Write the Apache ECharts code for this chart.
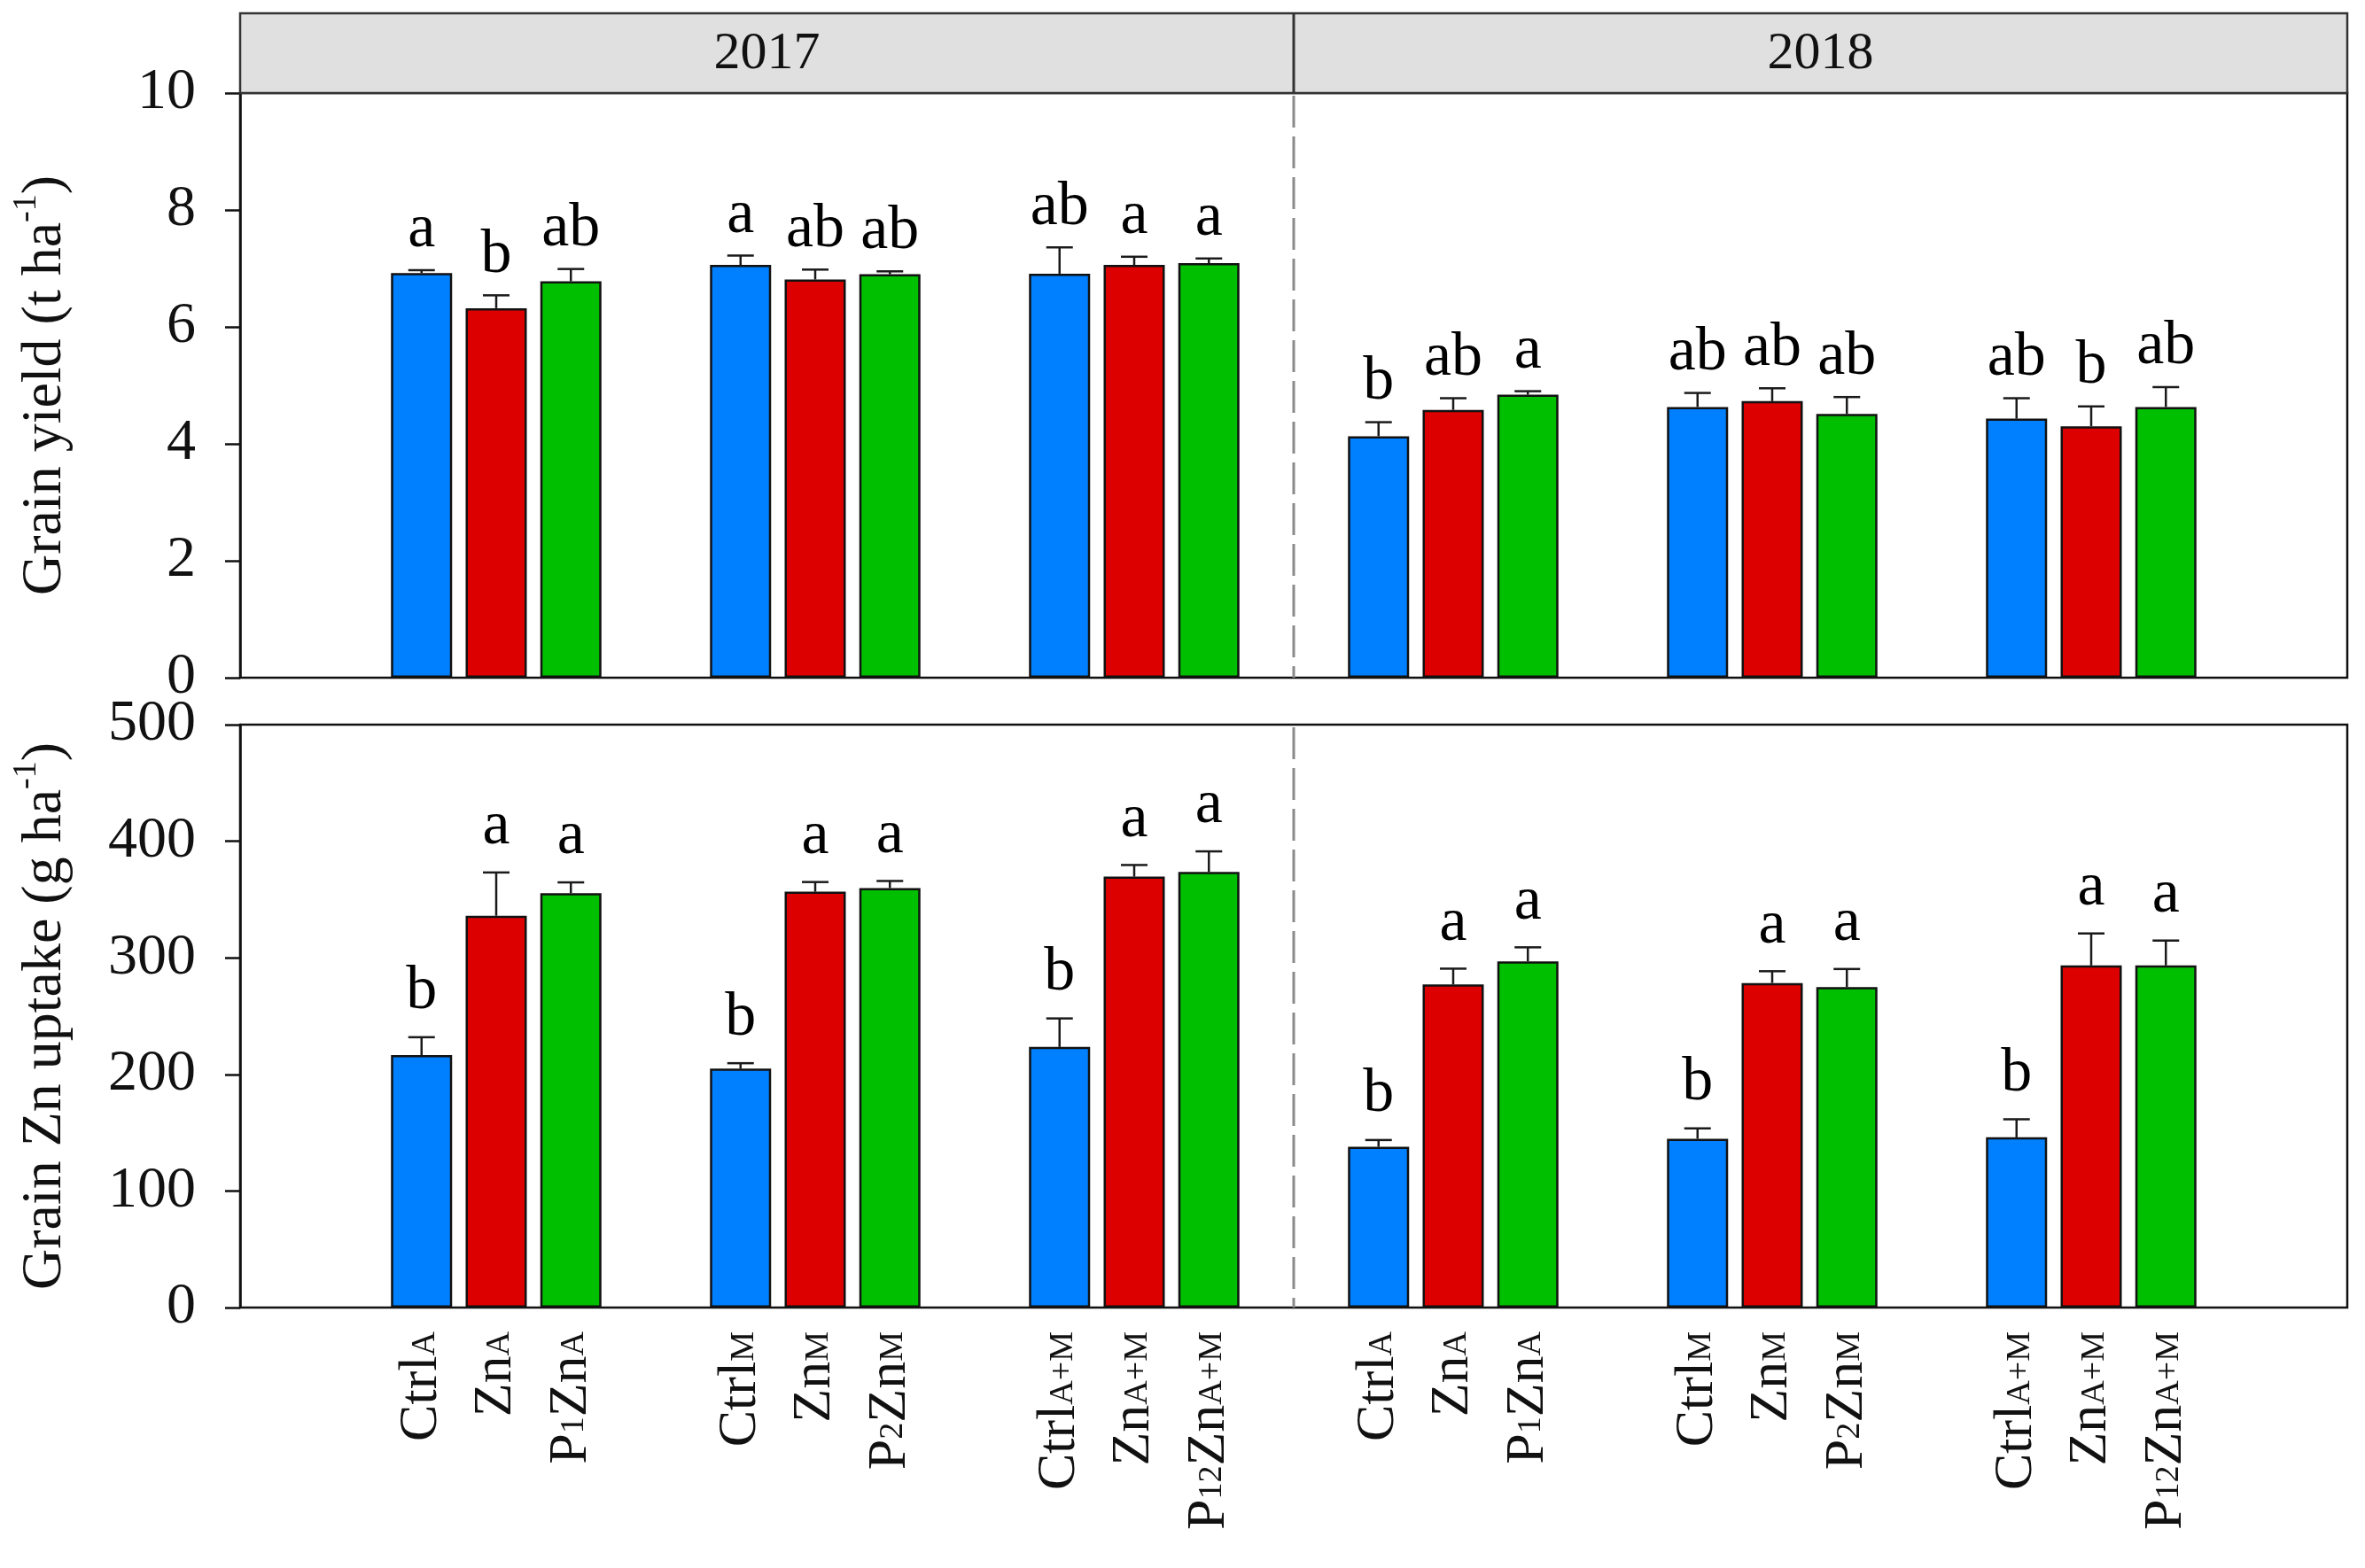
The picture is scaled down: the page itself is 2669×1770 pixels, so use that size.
<!DOCTYPE html>
<html><head><meta charset="utf-8">
<script src="https://cdn.jsdelivr.net/npm/echarts@6/dist/echarts.min.js"></script>
<style>html,body{margin:0;padding:0;background:#fff}#c{width:2669px;height:1770px}</style>
</head><body><div id="c"></div>
<script>
// ---------- data ----------
const years = ['2017', '2018'];
const groups = ['A-2017', 'M-2017', 'A+M-2017', 'A-2018', 'M-2018', 'A+M-2018'];
// tick labels: alternating [normal, subscript, normal, subscript]
const treatmentLabels = [
  [['Ctrl', 'A'], ['Zn', 'A'], ['P', '1', 'Zn', 'A']],
  [['Ctrl', 'M'], ['Zn', 'M'], ['P', '2', 'Zn', 'M']],
  [['Ctrl', 'A+M'], ['Zn', 'A+M'], ['P', '12', 'Zn', 'A+M']]
];
const yieldTicks = [0, 10, 2];
const uptakeTicks = [0, 500, 100];

// Grain yield (t/ha), per group
const yieldCtrl = [6.92, 7.06, 6.91, 4.13, 4.63, 4.43];
const yieldZn   = [6.32, 6.81, 7.06, 4.58, 4.73, 4.30];
const yieldPZn  = [6.78, 6.90, 7.09, 4.84, 4.51, 4.63];
const yieldCtrlErr = [0.05, 0.16, 0.45, 0.24, 0.24, 0.35];
const yieldZnErr   = [0.22, 0.17, 0.14, 0.20, 0.22, 0.34];
const yieldPZnErr  = [0.21, 0.05, 0.08, 0.06, 0.29, 0.34];
const yieldCtrlLet = ['a', 'a', 'ab', 'b', 'ab', 'ab'];
const yieldZnLet   = ['b', 'ab', 'a', 'ab', 'ab', 'b'];
const yieldPZnLet  = ['ab', 'ab', 'a', 'a', 'ab', 'ab'];

// Grain Zn uptake (g/ha), per group
const uptakeCtrl = [216.5, 204.9, 223.5, 137.9, 144.8, 146.0];
const uptakeZn   = [336.1, 356.7, 369.6, 277.2, 278.4, 293.5];
const uptakePZn  = [355.4, 359.8, 373.7, 297.0, 274.9, 293.5];
const uptakeCtrlErr = [15.4, 4.7, 24.5, 5.8, 8.9, 15.5];
const uptakeZnErr   = [37.1, 8.3, 10.0, 13.5, 10.1, 27.4];
const uptakePZnErr  = [9.3, 6.1, 17.6, 12.0, 15.5, 21.3];
const uptakeCtrlLet = ['b', 'b', 'b', 'b', 'b', 'b'];
const uptakeZnLet   = ['a', 'a', 'a', 'a', 'a', 'a'];
const uptakePZnLet  = ['a', 'a', 'a', 'a', 'a', 'a'];

// ---------- style ----------
const FONT = 'Liberation Serif';
const COLORS = ['#0080ff', '#dd0000', '#00bf00'];
const STEP = 84.25, BARW = 69;
const PLOT_L = 271, PLOT_W = 2378, BAR_L = 380, BAR_W = 2160;
const TOP_T = 105, TOP_H = 660, BOT_T = 818, BOT_H = 658;
const firstGroupOf2018 = groups.indexOf('A-2018');

const chart = echarts.init(document.getElementById('c'), null, {renderer: 'canvas'});

function labelText(i) {
  return treatmentLabels[i % 3].map(parts =>
    parts.map((p, k) => '{' + (k % 2 ? 's' : 'm') + '|' + p + '}').join('')
  ).join('\n');
}

function errRenderer(lets, gap) {
  return function (params, api) {
    const g = api.value(0), s = api.value(1), v = api.value(2), e = api.value(3);
    const base = api.coord([g, v]);
    const top = api.coord([g, v + e]);
    const x = base[0] + (s - 1) * STEP;
    return {
      type: 'group',
      children: [
        {type: 'line', shape: {x1: x, y1: base[1], x2: x, y2: top[1]}, style: {stroke: '#1a1a1a', lineWidth: 2.5}},
        {type: 'line', shape: {x1: x - 15, y1: top[1], x2: x + 15, y2: top[1]}, style: {stroke: '#1a1a1a', lineWidth: 2.5}},
        {type: 'text', x: x, y: top[1] - gap,
          style: {text: lets[s][g], fill: '#000', fontSize: 70, fontFamily: FONT, align: 'center', verticalAlign: 'bottom'}}
      ]
    };
  };
}

function dividerRenderer(params, api) {
  const c = api.coord([api.value(0), 0]);
  const band = api.size([1, 0])[0];
  const x = c[0] - band / 2;
  const cs = params.coordSys;
  return {type: 'line', shape: {x1: x, y1: cs.y + 3, x2: x, y2: cs.y + cs.height},
    style: {stroke: '#8a8a8a', lineWidth: 3, lineDash: [36, 10]}};
}

function errData(errs, vals) {
  const out = [];
  for (let s = 0; s < 3; s++) for (let g = 0; g < groups.length; g++) out.push([g, s, vals[s][g], errs[s][g]]);
  return out;
}

function panelSeries(vals, errs, lets, xi, yi, gap) {
  const list = vals.map((arr, s) => ({
    type: 'bar', xAxisIndex: xi, yAxisIndex: yi, data: arr,
    barWidth: BARW, barGap: ((STEP - BARW) / BARW * 100).toFixed(2) + '%',
    itemStyle: {color: COLORS[s], borderColor: '#111', borderWidth: 2.5},
    silent: true, animation: false
  }));
  list.push({
    type: 'custom', xAxisIndex: xi, yAxisIndex: yi, z: 5, animation: false, silent: true,
    renderItem: errRenderer(lets, gap),
    data: errData(errs, vals), encode: {x: 0, y: 2}
  });
  list.push({
    type: 'custom', xAxisIndex: xi, yAxisIndex: yi, z: 1, animation: false, silent: true,
    renderItem: dividerRenderer, clip: false,
    data: [[firstGroupOf2018, 0]], encode: {x: 0, y: 1}
  });
  return list;
}

function frameY(t, gi, name) {
  return {
    type: 'value', gridIndex: gi, min: t[0], max: t[1], interval: t[2],
    axisLine: {show: true, lineStyle: {color: '#111', width: 2.5}},
    axisTick: {show: true, inside: false, length: 17, lineStyle: {color: '#111', width: 2.5}},
    axisLabel: {fontSize: 66, fontFamily: FONT, color: '#111', margin: 50},
    splitLine: {show: false},
    name: name, nameLocation: 'middle', nameGap: 180, nameRotate: 90,
    nameTextStyle: {fontSize: 64, fontFamily: FONT, color: '#111', lineHeight: 80,
      rich: {sup: {fontSize: 38, fontFamily: FONT, color: '#111', verticalAlign: 'top', lineHeight: 30}}}
  };
}
function hiddenY(t, gi) {
  return {type: 'value', gridIndex: gi, min: t[0], max: t[1], interval: t[2], show: false};
}
function barX(gi, showLabels) {
  return {
    type: 'category', gridIndex: gi, data: groups, boundaryGap: true,
    axisLine: {show: false}, axisTick: {show: false}, splitLine: {show: false},
    axisLabel: showLabels ? {
      show: true, interval: 0, rotate: 90, margin: 27,
      formatter: (v, i) => labelText(i),
      rich: {
        m: {fontSize: 62, fontFamily: FONT, color: '#111', lineHeight: STEP},
        s: {fontSize: 38, fontFamily: FONT, color: '#111', verticalAlign: 'bottom', lineHeight: STEP, padding: [0, 0, 19, 0]}
      }
    } : {show: false}
  };
}

const option = {
  backgroundColor: '#fff',
  animation: false,
  grid: [
    {left: PLOT_L, top: TOP_T, width: PLOT_W, height: TOP_H, show: true, borderColor: '#111', borderWidth: 2.5, backgroundColor: 'transparent'},
    {left: BAR_L, top: TOP_T, width: BAR_W, height: TOP_H},
    {left: PLOT_L, top: BOT_T, width: PLOT_W, height: BOT_H, show: true, borderColor: '#111', borderWidth: 2.5, backgroundColor: 'transparent'},
    {left: BAR_L, top: BOT_T, width: BAR_W, height: BOT_H}
  ],
  xAxis: [
    {type: 'value', gridIndex: 0, min: 0, max: 1, show: false},
    barX(1, false),
    {type: 'value', gridIndex: 2, min: 0, max: 1, show: false},
    barX(3, true)
  ],
  yAxis: [
    frameY(yieldTicks, 0, 'Grain yield (t ha{sup|-1})'),
    hiddenY(yieldTicks, 1),
    frameY(uptakeTicks, 2, 'Grain Zn uptake (g ha{sup|-1})'),
    hiddenY(uptakeTicks, 3)
  ],
  series: [].concat(
    panelSeries([yieldCtrl, yieldZn, yieldPZn], [yieldCtrlErr, yieldZnErr, yieldPZnErr],
                [yieldCtrlLet, yieldZnLet, yieldPZnLet], 1, 1, 10),
    panelSeries([uptakeCtrl, uptakeZn, uptakePZn], [uptakeCtrlErr, uptakeZnErr, uptakePZnErr],
                [uptakeCtrlLet, uptakeZnLet, uptakePZnLet], 3, 3, 16)
  ),
  graphic: [
    {type: 'rect', z: 10, shape: {x: PLOT_L, y: 15, width: PLOT_W, height: TOP_T - 15},
      style: {fill: '#e0e0e0', stroke: '#333', lineWidth: 2.5}},
    {type: 'line', z: 11, shape: {x1: BAR_L + BAR_W / 2, y1: 15, x2: BAR_L + BAR_W / 2, y2: TOP_T},
      style: {stroke: '#333', lineWidth: 3}},
    {type: 'text', z: 11, x: (PLOT_L + BAR_L + BAR_W / 2) / 2, y: 61,
      style: {text: years[0], fill: '#111', fontSize: 60, fontFamily: FONT, align: 'center', verticalAlign: 'middle', textAlign: 'center', textVerticalAlign: 'middle'}},
    {type: 'text', z: 11, x: (BAR_L + BAR_W / 2 + PLOT_L + PLOT_W) / 2, y: 61,
      style: {text: years[1], fill: '#111', fontSize: 60, fontFamily: FONT, align: 'center', verticalAlign: 'middle', textAlign: 'center', textVerticalAlign: 'middle'}}
  ]
};
chart.setOption(option);
</script></body></html>
